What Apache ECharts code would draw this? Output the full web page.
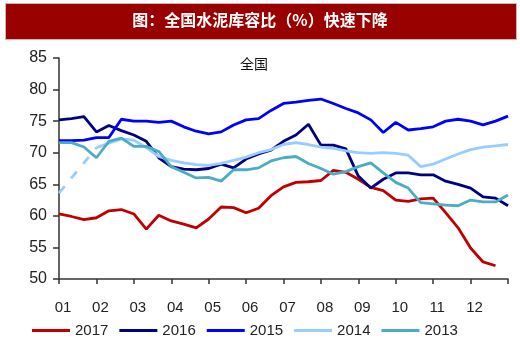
<!DOCTYPE html>
<html>
<head>
<meta charset="utf-8">
<script src="https://cdn.jsdelivr.net/npm/echarts@6/dist/echarts.min.js"></script>
<style>
  html, body { margin: 0; padding: 0; background: #fff; }
  #chart { width: 520px; height: 351px; }
</style>
</head>
<body>
<div id="chart"></div>
<script>
// ==============================================
// DATOS: 库容比 por 旬 (3 puntos por mes)
// ==============================================

const tickLabels = ['01', '02', '03', '04', '05', '06', '07', '08', '09', '10', '11', '12'];
const seriesNames = ['2017', '2016', '2015', '2014', '2013'];
const seriesColors = ['#c00000', '#000080', '#0000ff', '#99ccff', '#4bacc6'];

const s2017 = [60.3, 59.9, 59.4, 59.7, 60.8, 61.0, 60.3, 57.9, 60.1, 59.2, 58.7, 58.1,
               59.5, 61.4, 61.3, 60.5, 61.2, 63.2, 64.6, 65.3, 65.4, 65.6, 67.2, 66.9,
               65.8, 64.5, 64.0, 62.5, 62.3, 62.7, 62.8, 60.5, 58.1, 54.9, 52.7, 52.1];
const s2016 = [75.2, 75.4, 75.7, 73.3, 74.3, 73.5, 72.8, 71.8, 69.2, 67.8, 67.4, 67.3,
               67.5, 68.2, 67.6, 69.0, 69.8, 70.4, 71.8, 72.8, 74.5, 71.2, 71.2, 70.6,
               66.3, 64.4, 65.8, 66.8, 66.8, 66.5, 66.5, 65.5, 65.0, 64.4, 63.0, 62.8, 61.6];
const s2015 = [71.9, 71.9, 72.0, 72.4, 72.4, 75.3, 75.0, 75.0, 74.8, 75.0, 74.1, 73.4,
               73.0, 73.3, 74.4, 75.2, 75.4, 76.7, 77.8, 78.0, 78.3, 78.5, 77.8, 77.0,
               76.3, 75.2, 73.2, 74.8, 73.6, 73.8, 74.1, 75.0, 75.3, 75.0, 74.4, 75.0, 75.8];
const s2014 = [63.6, null, null, 70.8, 71.5, 72.2, 72.0, 70.8, 69.4, 68.8, 68.4, 68.1,
               68.0, 68.3, 68.8, 69.3, 70.0, 70.5, 71.3, 71.6, 71.3, 70.9, 70.7, 70.3,
               70.0, 69.9, 70.0, 69.9, 69.6, 67.8, 68.2, 69.0, 69.8, 70.5, 70.9, 71.1, 71.3];
const s2013 = [71.6, 71.6, 70.9, 69.2, 71.8, 72.3, 71.0, 71.0, 70.2, 67.8, 66.9, 66.0,
               66.1, 65.5, 67.3, 67.3, 67.6, 68.7, 69.2, 69.4, 68.3, 67.5, 66.6, 67.0,
               67.8, 68.4, 66.8, 65.3, 64.4, 62.1, 61.9, 61.7, 61.6, 62.5, 62.2, 62.2, 63.3];

const valores = [s2017, s2016, s2015, s2014, s2013];
const periodosPorMes = 3;

// ==============================================
// GRÁFICO
// ==============================================

function aPares(serie) {
    return serie.map((v, i) => [i / periodosPorMes, v]);
}

function generarGrafico() {
    const chart = echarts.init(document.getElementById('chart'), null, { renderer: 'canvas' });

    const series = seriesNames.map((nombre, k) => ({
        name: nombre,
        type: 'line',
        data: aPares(valores[k]),
        symbol: 'none',
        connectNulls: false,
        lineStyle: { color: seriesColors[k], width: 2.8 },
        itemStyle: { color: seriesColors[k] },
        z: 2 + k
    }));

    // tramo discontinuo de 2014 (datos faltantes al inicio)
    const idxFin = s2014.findIndex((v, i) => i > 0 && v !== null);
    series.push({
        name: '2014 gap',
        type: 'line',
        data: [[0, s2014[0]], [idxFin / periodosPorMes, s2014[idxFin]]],
        symbol: 'none',
        lineStyle: { color: '#99ccff', width: 2.8, type: [9, 10] },
        z: 5
    });

    const option = {
        backgroundColor: '#fff',
        animation: false,
        textStyle: { fontFamily: 'Liberation Sans, Arial, sans-serif' },
        grid: { left: 59, top: 58, right: 12, bottom: 72 },
        graphic: [
            {
                type: 'rect', left: 5, top: 3, z: 10,
                shape: { width: 511, height: 36 },
                style: { fill: '#990000', stroke: '#d9b3b3', lineWidth: 1 }
            },
            {
                type: 'text', left: 'center', top: 12, z: 11,
                style: {
                    text: '图：全国水泥库容比（%）快速下降',
                    fill: '#fff',
                    font: 'bold 16px "Noto Sans CJK SC", sans-serif'
                }
            },
            {
                type: 'text', left: 240, top: 57, z: 11,
                style: {
                    text: '全国',
                    fill: '#111',
                    font: '14px "Noto Sans CJK SC", sans-serif'
                }
            }
        ],
        legend: {
            data: seriesNames,
            left: 27,
            top: 318,
            itemWidth: 38,
            itemHeight: 3,
            itemGap: 11,
            icon: 'rect',
            textStyle: { fontSize: 15, color: '#222' }
        },
        xAxis: {
            type: 'value',
            min: 0,
            max: 12,
            interval: 1,
            splitLine: { show: false },
            axisLine: { lineStyle: { color: '#333', width: 1.5 } },
            axisTick: { show: true, length: 5, lineStyle: { color: '#333', width: 1.5 } },
            axisLabel: {
                margin: 21,
                fontSize: 15,
                color: '#222',
                padding: [0, 0, 0, 8],
                formatter: v => tickLabels[v] || ''
            }
        },
        yAxis: {
            type: 'value',
            min: 50,
            max: 85,
            interval: 5,
            splitLine: { show: false },
            axisLine: { show: true, lineStyle: { color: '#333', width: 1.5 } },
            axisTick: { show: true, inside: false, length: 6, lineStyle: { color: '#333', width: 1.5 } },
            axisLabel: { fontSize: 16, color: '#222', margin: 12 }
        },
        series: series
    };

    chart.setOption(option);
}

generarGrafico();
</script>
</body>
</html>
